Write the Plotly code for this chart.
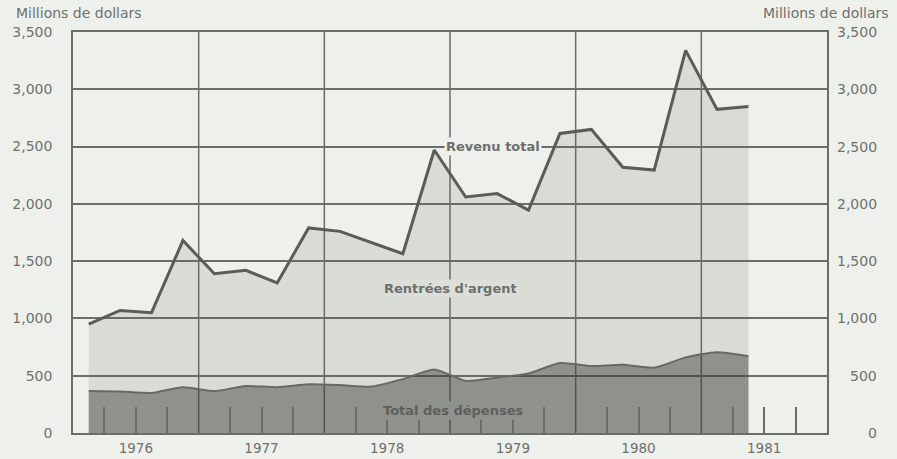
import plotly.graph_objects as go

# ---- data (millions de dollars, trimestriel 1976T1 - 1981T2) ----
annees = [1976, 1977, 1978, 1979, 1980, 1981]
trimestres = [(a, q) for a in annees for q in (1, 2, 3, 4)][:22]

revenu_total = [950, 1070, 1050, 1680, 1390, 1420, 1310, 1790, 1760, 1665, 1565,
                2470, 2060, 2090, 1945, 2615, 2650, 2320, 2295, 3340, 2825, 2850]
total_depenses = [366, 362, 350, 400, 366, 410, 400, 425, 418, 405, 470,
                  555, 455, 485, 520, 610, 585, 595, 570, 660, 705, 670]

y_ticks = [0, 500, 1000, 1500, 2000, 2500, 3000, 3500]
y_ticktext = ["0", "500", "1,000", "1,500", "2,000", "2,500", "3,000", "3,500"]
annee_labels = ["1976", "1977", "1978", "1979", "1980", "1981"]

# ---- styles ----
BG = "#eef0ec"
GRID = "#6b6d69"
TXT = "#6e706c"
FONT = "DejaVu Sans, Verdana, sans-serif"

x_pts = [a + (q - 0.5) / 4 for a, q in trimestres]

fig = go.Figure()
fig.add_trace(go.Scatter(
    x=x_pts, y=revenu_total, mode="lines", fill="tozeroy",
    fillcolor="rgba(95,105,90,0.15)",
    line=dict(color="#5a5c58", width=3), hoverinfo="skip", showlegend=False))
fig.add_trace(go.Scatter(
    x=x_pts, y=total_depenses, mode="lines", fill="tozeroy",
    fillcolor="rgba(55,58,52,0.46)",
    line=dict(color="#666864", width=2, shape="spline", smoothing=0.6),
    hoverinfo="skip", showlegend=False))

# vertical year grid lines
shapes = []
for a in annees[1:]:
    shapes.append(dict(type="line", xref="x", yref="paper", x0=a, x1=a, y0=0, y1=1,
                       line=dict(color=GRID, width=1.5), layer="below"))

mid_years = [a + 0.5 for a in annees]
quarter_minor = [a + f for a in annees for f in (0.25, 0.75)]

annotations = []
# right-hand tick labels (right aligned)
for v, t in zip(y_ticks, y_ticktext):
    annotations.append(dict(x=1, xref="paper", y=v, yref="y", text=t, showarrow=False,
                            xanchor="right", yanchor="middle", xshift=52,
                            font=dict(family=FONT, size=14, color=TXT)))
# axis titles
annotations.append(dict(x=0, xref="paper", y=1, yref="paper", text="Millions de dollars",
                        showarrow=False, xanchor="left", yanchor="middle",
                        xshift=-59, yshift=19, font=dict(family=FONT, size=14, color=TXT)))
annotations.append(dict(x=1, xref="paper", y=1, yref="paper", text="Millions de dollars",
                        showarrow=False, xanchor="right", yanchor="middle",
                        xshift=64, yshift=19, font=dict(family=FONT, size=14, color=TXT)))
# series labels
lab_font = dict(family=FONT, size=13, color=TXT)
annotations.append(dict(x=1979.34, y=2500, text="<b>Revenu total</b>", showarrow=False,
                        bgcolor=BG, font=lab_font, borderpad=1))
annotations.append(dict(x=1979.0, y=1257, text="<b>Rentrées d'argent</b>", showarrow=False,
                        bgcolor="#dbded9", font=lab_font, borderpad=1))
annotations.append(dict(x=1979.02, y=200, text="<b>Total des dépenses</b>", showarrow=False,
                        bgcolor="#8f918d", font=dict(family=FONT, size=13, color="#5d5f5b"),
                        borderpad=1))

fig.update_layout(
    width=897, height=459,
    margin=dict(l=73, r=70, t=32, b=26),
    paper_bgcolor=BG, plot_bgcolor=BG,
    shapes=shapes, annotations=annotations,
    xaxis=dict(range=[1976, 1982], tickvals=mid_years, ticktext=annee_labels,
               ticks="inside", ticklen=26, tickwidth=1.5, tickcolor=GRID,
               minor=dict(tickvals=quarter_minor, ticks="inside", ticklen=26,
                          tickwidth=1.5, tickcolor=GRID, showgrid=False),
               showgrid=False, zeroline=False, showline=True, mirror=True,
               linecolor=GRID, linewidth=1.5, ticklabelstandoff=2, automargin=False,
               tickfont=dict(family=FONT, size=13.5, color=TXT)),
    yaxis=dict(range=[0, 3500], tickvals=y_ticks, ticktext=y_ticktext,
               ticks="", showgrid=True, gridcolor=GRID, gridwidth=1.5,
               zeroline=False, showline=True, mirror=True, linecolor=GRID, linewidth=1.5,
               ticklabelstandoff=16, automargin=False,
               tickfont=dict(family=FONT, size=14, color=TXT)),
)

fig.write_html("out.html", post_script="document.body.style.margin='0';",
               config={"displayModeBar": False})
